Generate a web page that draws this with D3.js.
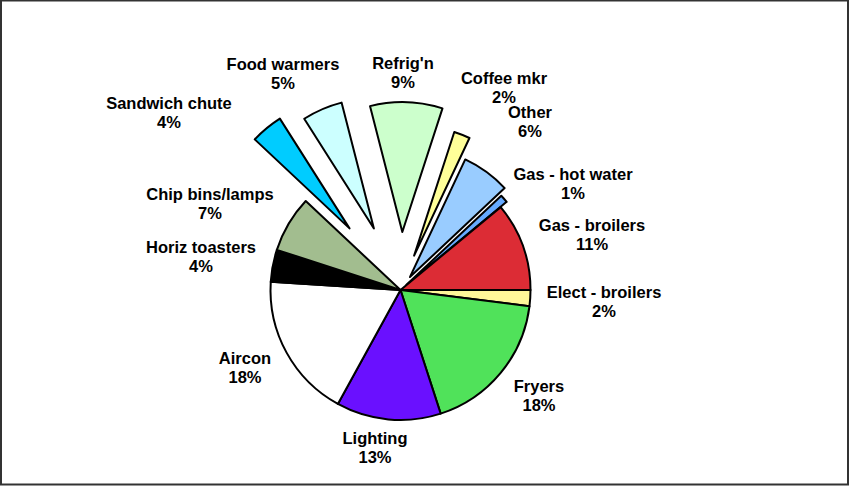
<!DOCTYPE html>
<head>
  <meta charset="utf-8" />
  <script src="https://d3js.org/d3.v7.min.js"></script>
  <style>
    body {
      margin: 0;
      background: #fff;
    }
    .slice {
      stroke: #000;
      stroke-width: 2px;
      stroke-linejoin: round;
    }
    .lbl {
      font-family: "Liberation Sans", Arial, Helvetica, sans-serif;
      font-weight: bold;
      font-size: 16.5px;
      fill: #000;
    }
  </style>
</head>

<body>
  <script>
    // categories, clockwise from 3 o'clock
    var categories = ["Elect - broilers", "Fryers", "Lighting", "Aircon", "Horiz toasters",
      "Chip bins/lamps", "Sandwich chute", "Food warmers", "Refrig'n", "Coffee mkr",
      "Other", "Gas - hot water", "Gas - broilers"];
    var shares = [2, 18, 13, 18, 4, 7, 4, 5, 9, 2, 6, 1, 11];

    var colors = ["#fff799", "#50e25a", "#6a10ff", "#ffffff", "#000000",
      "#a2bd8f", "#00ccff", "#ccffff", "#ccffcc", "#ffff99",
      "#99ccff", "#66aaff", "#dc2c35"];

    // how far each exploded slice is pulled out (px)
    var explode = {
      "Sandwich chute": 80,
      "Food warmers": 67,
      "Refrig'n": 58,
      "Coffee mkr": 37,
      "Other": 16,
      "Gas - hot water": 8
    };

    // hand-placed label spots: centre x, first baseline
    var labelPos = {
      "Elect - broilers": [604, 298],
      "Fryers": [539, 392],
      "Lighting": [375, 444],
      "Aircon": [245, 364],
      "Horiz toasters": [201, 253],
      "Chip bins/lamps": [210, 200],
      "Sandwich chute": [169, 109],
      "Food warmers": [283, 70],
      "Refrig'n": [403, 69],
      "Coffee mkr": [504, 84],
      "Other": [530, 118],
      "Gas - hot water": [573, 180],
      "Gas - broilers": [592, 231]
    };

    var width = 850,
      height = 487,
      cx = 400.5,
      cy = 290,
      radius = 130;

    var svg = d3.select("body")
      .append("svg")
      .attr("width", width)
      .attr("height", height);

    // frame around the picture
    svg.append("rect")
      .attr("x", 1)
      .attr("y", 0.5)
      .attr("width", 847)
      .attr("height", 484)
      .attr("fill", "#fff")
      .attr("stroke", "#333")
      .attr("stroke-width", 2);

    var data = categories.map(function (c, i) {
      return { name: c, value: shares[i], color: colors[i] };
    });

    var pie = d3.pie()
      .sort(null)
      .value(function (d) { return d.value; })
      .startAngle(Math.PI / 2)
      .endAngle(Math.PI / 2 + 2 * Math.PI);

    var arc = d3.arc().innerRadius(0).outerRadius(radius);

    var g = svg.append("g").attr("transform", "translate(" + cx + "," + cy + ")");

    g.selectAll("path")
      .data(pie(data))
      .join("path")
      .attr("class", "slice")
      .attr("d", arc)
      .attr("fill", function (d) { return d.data.color; })
      .attr("transform", function (d) {
        var off = explode[d.data.name] || 0;
        var a = (d.startAngle + d.endAngle) / 2;
        return "translate(" + (off * Math.sin(a)) + "," + (-off * Math.cos(a)) + ")";
      });

    // labels
    var lbl = svg.selectAll("text.lbl")
      .data(data)
      .join("text")
      .attr("class", "lbl")
      .attr("text-anchor", "middle")
      .attr("x", function (d) { return labelPos[d.name][0]; })
      .attr("y", function (d) { return labelPos[d.name][1]; });

    lbl.append("tspan")
      .text(function (d) { return d.name; });

    lbl.append("tspan")
      .attr("x", function (d) { return labelPos[d.name][0]; })
      .attr("dy", 19)
      .text(function (d) { return d.value + "%"; });
  </script>
</body>
